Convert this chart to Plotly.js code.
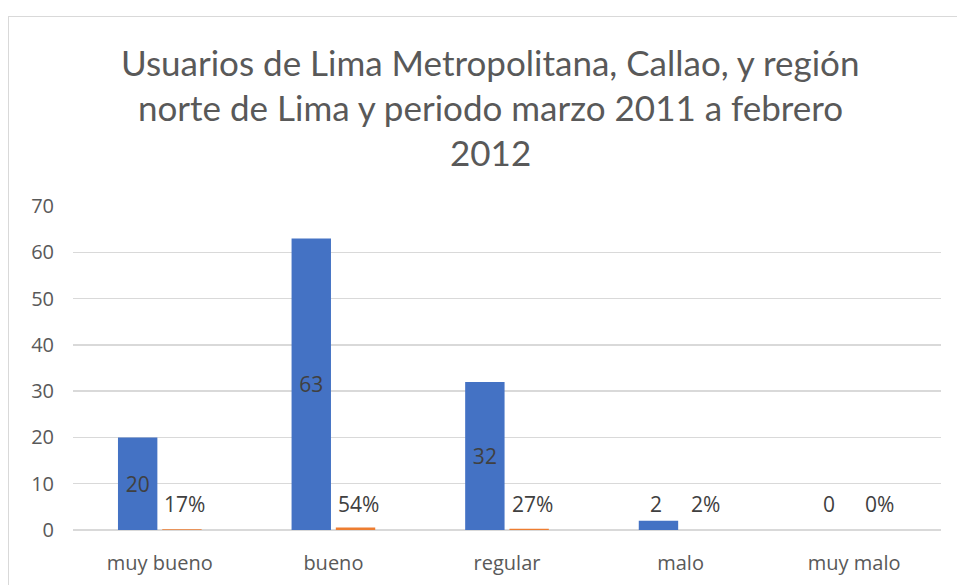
<!DOCTYPE html>
<html>
<head>
<meta charset="utf-8">
<script src="https://cdn.plot.ly/plotly-3.0.1.min.js"></script>
<style>
  html, body { margin: 0; padding: 0; background: #fff; }
  #wrap { position: relative; width: 957px; height: 585px; }
  #chart { position: absolute; left: 0; top: 0; width: 957px; height: 585px; }
  #frame { position: absolute; left: 8px; top: 16px; width: 960px; height: 580px;
           border-left: 1.5px solid #d9d9d9; border-top: 1.5px solid #d9d9d9; pointer-events: none; }
</style>
</head>
<body>
<div id="wrap">
  <div id="chart"></div>
  <div id="frame"></div>
</div>
<script>
const titleLines = [
  'Usuarios de Lima Metropolitana, Callao, y región',
  'norte de Lima y periodo marzo 2011 a febrero',
  '2012'
];
const categories = ['muy bueno', 'bueno', 'regular', 'malo', 'muy malo'];
const usuarios = [20, 63, 32, 2, 0];
const porcentaje = [0.17, 0.54, 0.27, 0.02, 0];
const yTicks = [0, 10, 20, 30, 40, 50, 60, 70];

const BLUE = '#4472C4';
const ORANGE = '#ED7D31';
const TXT = '#595959';
const LBL = '#404040';
const tickFont = { family: 'Open Sans, Segoe UI, sans-serif', size: 20, color: TXT };
const lblFont = { family: 'Open Sans, Segoe UI, sans-serif', size: 21, color: LBL };

const insideRule = v => v >= 5;

const traces = [
  {
    type: 'bar', name: 'Usuarios', x: categories, y: usuarios,
    marker: { color: BLUE },
    text: usuarios.map(v => insideRule(v) ? String(v) : ''),
    textposition: usuarios.map(v => insideRule(v) ? 'inside' : 'none'),
    insidetextanchor: 'middle',
    insidetextfont: lblFont,
    constraintext: 'none',
    hoverinfo: 'x+y'
  },
  {
    type: 'bar', name: 'Porcentaje', x: categories, y: porcentaje,
    marker: { color: ORANGE },
    textposition: 'none',
    hoverinfo: 'x+y'
  }
];

// plot-area geometry (pixels) used to place the title lines
const W = 957, H = 585, ML = 73, MR = 16, MT = 206, MB = 55;
const plotW = W - ML - MR, plotH = H - MT - MB;

// small-value labels sit in one row just above the baseline, like the original
const OFFSET = 25, LABEL_LIFT = 10;
const annotations = [];
categories.forEach((c, i) => {
  if (!insideRule(usuarios[i])) {
    annotations.push({ x: c, y: 0, xref: 'x', yref: 'y', xshift: -OFFSET, yshift: LABEL_LIFT,
      yanchor: 'bottom', text: String(usuarios[i]), showarrow: false, font: lblFont });
  }
  annotations.push({ x: c, y: 0, xref: 'x', yref: 'y', xshift: OFFSET, yshift: LABEL_LIFT,
    yanchor: 'bottom', text: Math.round(porcentaje[i] * 100) + '%', showarrow: false, font: lblFont });
});

const titleFont = { family: 'Lato, Calibri, sans-serif', size: 35, color: TXT };
const titleCenterX = 490, titleFirstY = 62, titleStep = 45;
titleLines.forEach((t, i) => {
  annotations.push({ xref: 'paper', yref: 'paper',
    x: (titleCenterX - ML) / plotW, xanchor: 'center',
    y: (H - MB - (titleFirstY + i * titleStep)) / plotH, yanchor: 'middle',
    text: t, showarrow: false, font: titleFont });
});

const layout = {
  width: W, height: H,
  margin: { l: ML, r: MR, t: MT, b: MB },
  paper_bgcolor: '#ffffff', plot_bgcolor: '#ffffff',
  showlegend: false,
  barmode: 'group', bargap: 0.49, bargroupgap: 0.11,
  xaxis: { type: 'category', tickfont: tickFont, showgrid: false, zeroline: false,
           showline: false, ticks: '', ticklabelstandoff: 19 },
  yaxis: { range: [0, 70], tickvals: yTicks, ticktext: yTicks.map(String), tickfont: tickFont,
           showgrid: true, gridcolor: '#d9d9d9', gridwidth: 1.3, zeroline: true,
           zerolinecolor: '#d9d9d9', zerolinewidth: 1.3, showline: false, ticks: '',
           ticklabelstandoff: 18 },
  annotations: annotations
};

Plotly.newPlot('chart', traces, layout, { displayModeBar: false, staticPlot: true });
</script>
</body>
</html>
